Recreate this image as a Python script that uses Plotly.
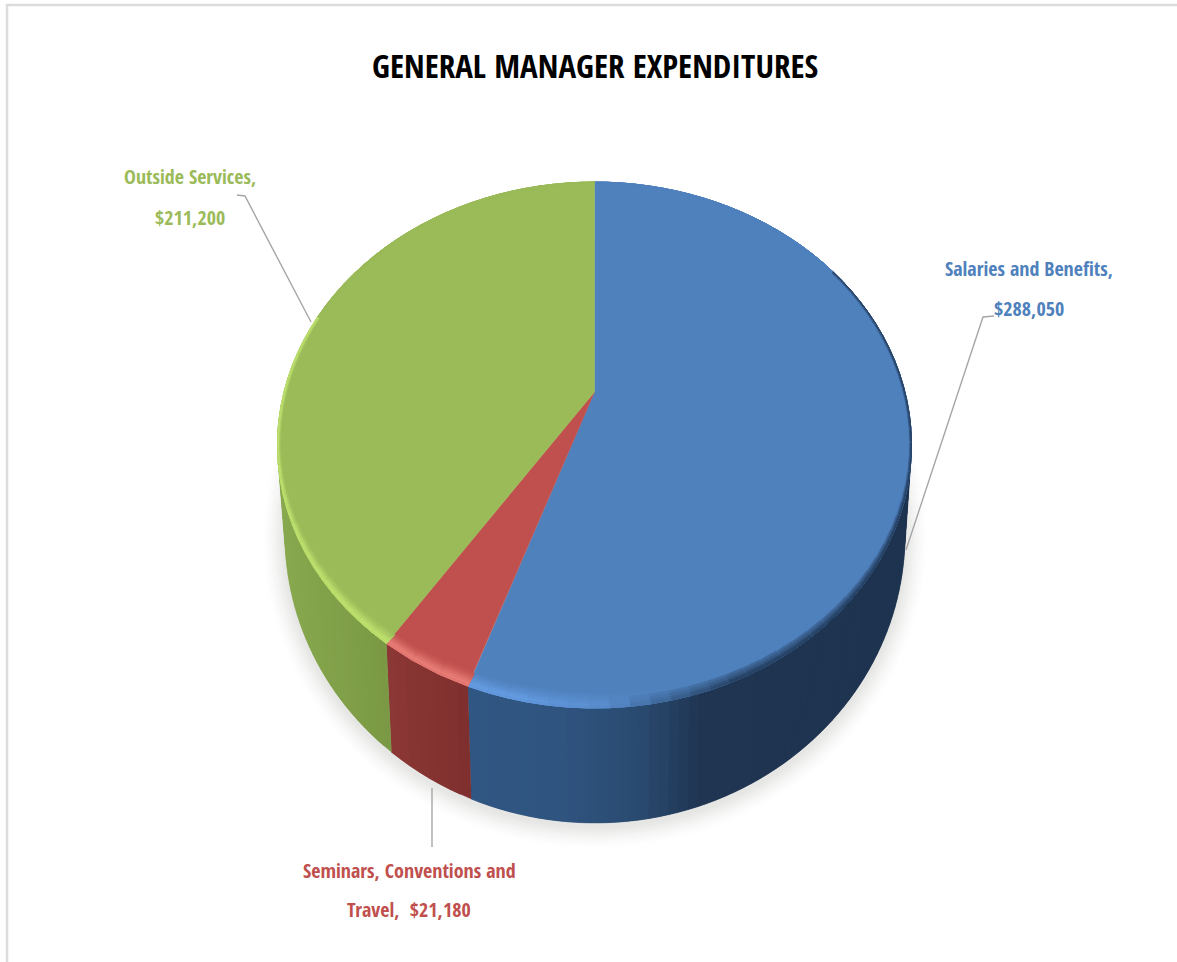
import numpy as np
import plotly.graph_objects as go

# ---- data
categories = ["Salaries and Benefits", "Seminars, Conventions and Travel", "Outside Services"]
values = [288050, 21180, 211200]
label_lines = [
    ["Salaries and Benefits,", "$288,050"],
    ["Seminars, Conventions and", "Travel,\u00a0 $21,180"],
    ["Outside Services,", "$211,200"],
]
title_text = "GENERAL MANAGER EXPENDITURES"

# ---- styling / projection constants (tilted pie)
FONT = "Open Sans Condensed"
top_colors = [(79, 129, 189), (192, 80, 77), (155, 187, 89)]
rim_colors = [(100, 155, 225), (232, 125, 118), (190, 225, 110)]
text_colors = ["#4f81bd", "#c0504d", "#9bbb59"]
side_stops = [
    [(470, (48, 86, 131)), (560, (47, 84, 127)), (640, (42, 74, 112)), (700, (31, 53, 82)), (905, (29, 51, 79))],
    [(393, (139, 55, 53)), (472, (126, 47, 45))],
    [(285, (136, 169, 79)), (393, (122, 152, 67))],
]
APEX = (594.5, 392.0)
CX, CY, RX, RY = 594.5, 445.0, 317.0, 263.0
CX2, CY2, RX2, RY2 = 595.0, 535.0, 310.0, 288.0
K, A, B = 0.2015, 252.3, 310.5


def on_top(theta):
    """Clockwise angle from 12 o'clock -> point of the tilted top face."""
    u, v = np.sin(theta), np.cos(theta)
    w = 1 + K * v
    return APEX[0] + B * u / w, APEX[1] - A * v / w


def phi_of(theta):
    x, y = on_top(theta)
    return np.arctan2((y - CY) / RY, (x - CX) / RX)


def lerp(c1, c2, t):
    return tuple(c1[i] + (c2[i] - c1[i]) * t for i in range(3))


def css(c):
    return "rgb(%d,%d,%d)" % tuple(int(round(v)) for v in c)


fig = go.Figure()


def poly(xs, ys, color, lw=1.2):
    fig.add_trace(go.Scatter(x=list(xs), y=list(ys), mode="lines", fill="toself", fillcolor=color,
                             line=dict(color=color, width=lw), hoverinfo="skip", showlegend=False))


# soft shadow round the base
t = np.linspace(0, 2 * np.pi, 180)
for grow in np.arange(24, 0, -2.0):
    a = (24 - grow) / 24
    shade = lerp((255, 255, 255), (226, 226, 224), a ** 1.5)
    poly(CX2 + (RX2 + grow) * np.cos(t), CY2 + 3 + (RY2 + grow) * np.sin(t), css(shade), 0.5)

# wedge angles from the values
total = sum(values)
edges = np.concatenate([[0], np.cumsum(values) / total * 2 * np.pi])

# side wall: each strip reaches into the next one so no seam shows
for i in range(len(values)):
    thetas = np.linspace(edges[i], edges[i + 1], max(3, int((edges[i + 1] - edges[i]) / np.radians(1.5))))
    phis = np.unwrap([phi_of(th) for th in thetas])
    xstops = [s[0] for s in side_stops[i]]
    for j in range(len(phis) - 1):
        lo, hi = phis[j], phis[min(j + 2, len(phis) - 1)]
        mid = (phis[j] + phis[j + 1]) / 2
        if np.sin(mid) < -0.12:
            continue
        xm = CX2 + RX2 * np.cos(mid)
        col = [np.interp(xm, xstops, [s[1][k] for s in side_stops[i]]) for k in range(3)]
        p = np.linspace(lo, hi, 4)
        xs = np.r_[CX + RX * np.cos(p), CX2 + RX2 * np.cos(p[::-1])]
        ys = np.r_[CY + RY * np.sin(p), CY2 + RY2 * np.sin(p[::-1])]
        poly(xs, ys, css(col), 0.3)

# top face wedges
for i in range(len(values)):
    th = np.linspace(edges[i], edges[i + 1], 200)
    xs, ys = on_top(th)
    poly(np.r_[APEX[0], xs, APEX[0]], np.r_[APEX[1], ys, APEX[1]], css(top_colors[i]), 0.5)

# bevel along the rim of the top face
insets = [16, 13, 10, 7, 4, 2]
levels = [0.12, 0.3, 0.55, 0.8, 1.0, 0.85]
dark = (29, 51, 79)
for i in range(len(values)):
    span = edges[i + 1] - edges[i]
    thetas = np.linspace(edges[i], edges[i + 1], max(3, int(span / np.radians(3))))
    phis = np.unwrap([phi_of(th) for th in thetas])
    for a, b in zip(phis[:-1], phis[1:]):
        mid = (a + b) / 2
        sm, cm = np.sin(mid), np.cos(mid)
        thick = 0.16 + 0.84 * max(sm, 0) ** 1.5
        light = max(0.0, min(1.0, (0.25 - cm) / 0.5)) * (1 if sm > -0.5 else 0.0)
        shadow = max(0.0, min(1.0, (cm - 0.05) / 0.4)) * (1 if sm > -0.65 else 0.0)
        for d, f in zip(insets, levels):
            col = lerp(top_colors[i], rim_colors[i], light * f)
            col = lerp(col, dark, 0.85 * shadow * (d <= 10) * (1.1 - d / 14))
            s = 1 - d * thick / RY
            xs = [CX + s * RX * np.cos(a), CX + s * RX * np.cos(b), CX + RX * np.cos(b), CX + RX * np.cos(a)]
            ys = [CY + s * RY * np.sin(a), CY + s * RY * np.sin(b), CY + RY * np.sin(b), CY + RY * np.sin(a)]
            poly(xs, ys, css(col), 0.6)

# leader lines
leaders = [
    ([994, 983, 906], [316, 317, 550]),
    ([432, 432], [788, 847]),
    ([237, 245, 311], [195, 196, 322]),
]
for lx, ly in leaders:
    fig.add_trace(go.Scatter(x=lx, y=ly, mode="lines", line=dict(color="#a6a6a6", width=1.4),
                             hoverinfo="skip", showlegend=False))

# frame of the picture
fig.add_trace(go.Scatter(x=[7, 7, 1177], y=[962, 5, 5], mode="lines", line=dict(color="#dcdcdc", width=2.5),
                         hoverinfo="skip", showlegend=False))

# labels
label_pos = [[(1029, 268), (1029, 308)], [(409, 870), (409, 909)], [(190, 176), (190, 217)]]
for lines, pos, col in zip(label_lines, label_pos, text_colors):
    for line, (x, y) in zip(lines, pos):
        fig.add_annotation(x=x, y=y, text="<b>%s</b>" % line, showarrow=False, xanchor="center", yanchor="middle",
                           font=dict(family=FONT, size=20, color=col))
fig.add_annotation(x=595, y=65, text="<b>%s</b>" % title_text, showarrow=False, xanchor="center", yanchor="middle",
                   font=dict(family=FONT, size=33, color="#000000"))

fig.update_xaxes(range=[0, 1177], visible=False, fixedrange=True)
fig.update_yaxes(range=[962, 0], visible=False, fixedrange=True)
fig.update_layout(width=1177, height=962, margin=dict(l=0, r=0, t=0, b=0), paper_bgcolor="white",
                  plot_bgcolor="white", showlegend=False)
fig.write_html("out.html", config=dict(displayModeBar=False),
               post_script="document.body.style.margin='0';document.body.style.overflow='hidden';")
